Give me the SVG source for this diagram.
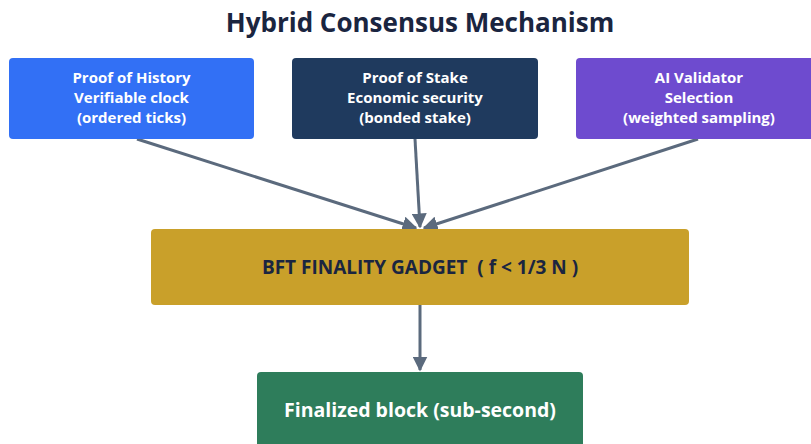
<svg xmlns="http://www.w3.org/2000/svg" width="811" height="444" viewBox="0 0 811 444">
<defs>
<style>
text{font-family:"Open Sans","Liberation Sans",sans-serif;font-weight:700;text-anchor:middle}
.t{fill:#ffffff;font-size:15px}
.title{fill:#1a2540;font-size:26px}
.bft{fill:#1a2540;font-size:19px}
.fin{fill:#ffffff;font-size:19.5px}
.edge{stroke:#5b6a7d;stroke-width:3;fill:none;marker-end:url(#ah)}
</style>
<marker id="ah" viewBox="0 0 10 10" refX="9" refY="5" markerWidth="5" markerHeight="5" orient="auto" markerUnits="strokeWidth">
<path d="M0,0 L10,5 L0,10 Z" fill="#5b6a7d"/>
</marker>
</defs>
<rect width="811" height="444" fill="#ffffff"/>
<text class="title" x="420" y="32">Hybrid Consensus Mechanism</text>
<g id="connectors">
<line class="edge" x1="137" y1="139" x2="416" y2="228"/>
<line class="edge" x1="415" y1="139" x2="420" y2="227"/>
<line class="edge" x1="698" y1="139" x2="424" y2="228"/>
<line class="edge" x1="420" y1="305" x2="420" y2="370"/>
</g>
<g id="poh">
<rect x="9" y="58" width="245" height="81" rx="4" fill="#3270f5"/>
<text class="t" x="131.5" y="83">Proof of History</text>
<text class="t" x="131.5" y="103">Verifiable clock</text>
<text class="t" x="131.5" y="123">(ordered ticks)</text>
</g>
<g id="pos">
<rect x="292" y="58" width="246" height="81" rx="4" fill="#1f3a5e"/>
<text class="t" x="415" y="83">Proof of Stake</text>
<text class="t" x="415" y="103">Economic security</text>
<text class="t" x="415" y="123">(bonded stake)</text>
</g>
<g id="ai">
<rect x="576" y="58" width="246" height="81" rx="4" fill="#6e4bcf"/>
<text class="t" x="699" y="83">AI Validator</text>
<text class="t" x="699" y="103">Selection</text>
<text class="t" x="699" y="123">(weighted sampling)</text>
</g>
<g id="bft">
<rect x="151" y="229" width="538" height="76" rx="4" fill="#c9a02a"/>
<text class="bft" x="420" y="274" xml:space="preserve">BFT FINALITY GADGET  ( f &lt; 1/3 N )</text>
</g>
<g id="final">
<rect x="257" y="372" width="326" height="80" rx="4" fill="#2e7d5b"/>
<text class="fin" x="420" y="417">Finalized block (sub-second)</text>
</g>
</svg>
